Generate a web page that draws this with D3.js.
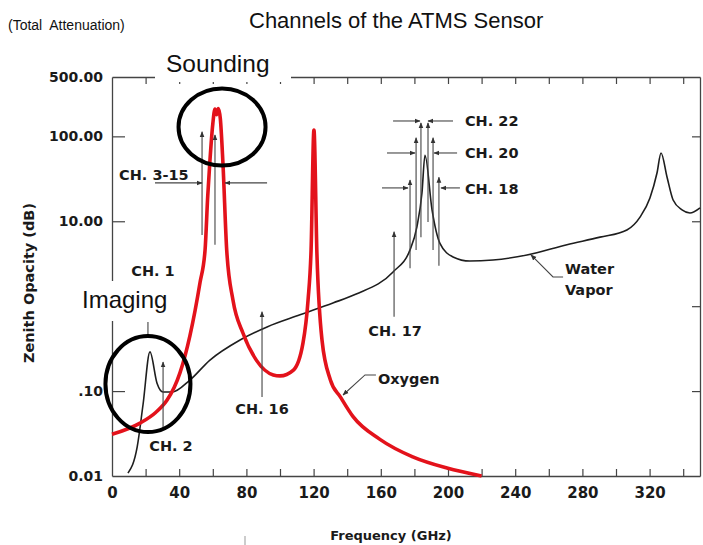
<!DOCTYPE html>
<html>
<head>
<meta charset="utf-8">
<script src="https://cdn.jsdelivr.net/npm/d3@7"></script>
<style>
  body { margin: 0; background: #fff; }
  svg { display: block; }
  .lbl { font-family: "DejaVu Sans", sans-serif; font-weight: bold; fill: #1a1a1a; }
  .big { font-family: "Liberation Sans", Arial, sans-serif; fill: #111; }
</style>
</head>
<body>
<svg id="chart" width="703" height="545"></svg>
<script>
// values: frequency (GHz) / zenith opacity (dB)
const oxygenFreq = [0, 16.7, 26, 32.7, 37, 40.5, 46.4, 52.4, 55.4, 57, 58.3, 60, 61.3, 62.3, 63.3, 64.5, 66, 68.3, 72, 78, 86, 96, 100, 108, 113.7, 116.7, 118.5, 120.2, 122, 125, 130, 136, 143.5, 159.5, 179, 199.4, 220];
const oxygenDb   = [0.031, 0.042, 0.056, 0.078, 0.11, 0.165, 0.45, 1.9, 4.6, 20, 52, 140, 210, 180, 212, 160, 50, 4.5, 1.18, 0.48, 0.23, 0.155, 0.151, 0.177, 0.37, 1.18, 4.6, 119, 4, 0.40, 0.135, 0.085, 0.050, 0.027, 0.0168, 0.0124, 0.01];

const waterFreq = [9.5, 15, 18.5, 22.6, 26.8, 30.4, 35.7, 46.4, 58.3, 76.2, 92.3, 111.9, 131.5, 145, 167.3, 177.4, 181.5, 184.5, 186.3, 190.5, 195.2, 203, 213, 226.8, 247, 270.8, 290.5, 306.5, 314.3, 320.2, 324.4, 326.8, 330.4, 334, 339.3, 344, 350];
const waterDb   = [0.0108, 0.022, 0.07, 0.29, 0.124, 0.0975, 0.0975, 0.135, 0.232, 0.40, 0.57, 0.79, 1.09, 1.38, 2.53, 4.6, 8.6, 21.5, 60, 13.6, 5.5, 3.8, 3.4, 3.5, 4.0, 5.3, 6.5, 7.9, 11.2, 18.8, 37, 63.7, 33, 17.8, 13.6, 12.5, 14.4];

const xTickLabels = [0, 40, 80, 120, 160, 200, 240, 280, 320];
const xMinorTicks = [20, 40, 60, 80, 100, 120, 140, 160, 180, 200, 220, 240, 260, 280, 300, 320, 340];
const yTickValues = [0.01, 0.1, 10, 100, 500];
const yTickText = ["0.01", ".10", "10.00", "100.00", "500.00"];
const yInnerTicks = [0.1, 1, 10, 100];

// channel arrows: [freq, from dB, to dB] (vertical) and [dB, from GHz, to GHz] (horizontal)
const vArrows = [[30.4, 0.035, 0.22], [53.6, 6.9, 113], [61.3, 5.3, 104], [89.3, 0.085, 0.86],
  [167.9, 0.75, 7.5], [177.4, 2.8, 30.6], [194.6, 3.0, 33], [181, 4.6, 96], [191.1, 4.6, 96],
  [183.9, 6.5, 144], [188.1, 9.8, 144]];
const hArrows = [[28.3, 25.6, 53.6], [28.3, 92.3, 67.3], [24.7, 160.7, 176.2], [24.7, 207.1, 195.8],
  [63.7, 163.7, 180.4], [63.7, 205.4, 191.7], [151.7, 167.3, 183.3], [151.7, 203, 188.1]];
const ch1Line = [21.4, 0.434, 0.652];

const chLabels = ["CH. 1", "CH. 2", "CH. 3-15", "CH. 16", "CH. 17", "CH. 18", "CH. 20", "CH. 22", "Oxygen", "Water", "Vapor"];
const chLabelFreq = [24.4, 35.1, 4.2, 89.3, 168.5, 210.1, 210.1, 210.1, 158.3, 269.6, 269.6];
const chLabelDb = [2.6, 0.0226, 35.1, 0.0615, 0.51, 24.0, 63.7, 151.7, 0.139, 2.74, 1.55];
const chLabelAnchor = ["middle", "middle", "start", "middle", "middle", "start", "start", "start", "start", "start", "start"];

const oxygenLeader = [[157.1, 0.155], [150.6, 0.155], [137.5, 0.09]];
const waterLeader = [[268.5, 2.21], [262.5, 2.21], [249.4, 4.01]];

const svg = d3.select('#chart');
const x = d3.scaleLinear().domain([0, 350]).range([112, 700]);
const y = d3.scaleLog().domain([0.01, 500]).range([476, 77]);

// arrow head
svg.append('defs').append('marker')
    .attr('id', 'head')
    .attr('viewBox', '0 0 10 10')
    .attr('refX', 9).attr('refY', 5)
    .attr('markerWidth', 6).attr('markerHeight', 6)
    .attr('markerUnits', 'userSpaceOnUse')
    .attr('orient', 'auto')
    .append('path').attr('d', 'M0,1L10,5L0,9Z').attr('fill', '#333');

// frame with inward ticks
function styleAxis(g) {
    g.selectAll('.domain').attr('stroke', '#444').attr('stroke-width', 1.3);
    g.selectAll('.tick line').attr('stroke', '#444').attr('stroke-width', 1.2);
}
svg.append('g').attr('transform', `translate(0,${y(0.01)})`)
    .call(d3.axisBottom(x).tickValues(xMinorTicks).tickSize(-7).tickSizeOuter(0).tickFormat(''))
    .call(styleAxis);
svg.append('g').attr('transform', `translate(0,${y(500)})`)
    .call(d3.axisTop(x).tickValues(xMinorTicks).tickSize(-7).tickSizeOuter(0).tickFormat(''))
    .call(styleAxis);
svg.append('g').attr('transform', `translate(${x(0)},0)`)
    .call(d3.axisLeft(y).tickValues(yInnerTicks).tickSize(-13).tickSizeOuter(0).tickFormat(''))
    .call(styleAxis);
svg.append('g').attr('transform', `translate(${x(350)},0)`)
    .call(d3.axisRight(y).tickValues(yInnerTicks).tickSize(-8).tickSizeOuter(0).tickFormat(''))
    .call(styleAxis);

// tick labels
const xl = svg.append('g').attr('transform', `translate(0,${y(0.01)})`)
    .call(d3.axisBottom(x).tickValues(xTickLabels).tickSize(0).tickPadding(11));
xl.select('.domain').remove();
xl.selectAll('text').attr('class', 'lbl').attr('font-size', 15);

const yl = svg.append('g').attr('transform', `translate(${x(0)},0)`)
    .call(d3.axisLeft(y).tickValues(yTickValues).tickFormat((d, i) => yTickText[i]).tickSize(0).tickPadding(9));
yl.select('.domain').remove();
yl.selectAll('text').attr('class', 'lbl').attr('font-size', 14);

// curves
const line = d3.line().x(d => x(d[0])).y(d => y(d[1])).curve(d3.curveMonotoneX);
svg.append('path')
    .datum(d3.zip(waterFreq, waterDb))
    .attr('fill', 'none').attr('stroke', '#1e1e1e').attr('stroke-width', 1.6)
    .attr('d', line);
svg.append('path')
    .datum(d3.zip(oxygenFreq, oxygenDb))
    .attr('fill', 'none').attr('stroke', '#e3121b').attr('stroke-width', 3.6)
    .attr('stroke-linejoin', 'round')
    .attr('d', line);

// channel arrows
const ann = svg.append('g').attr('stroke', '#444').attr('stroke-width', 1.1).attr('fill', 'none');
ann.selectAll('.v').data(vArrows).join('line')
    .attr('x1', d => x(d[0])).attr('x2', d => x(d[0]))
    .attr('y1', d => y(d[1])).attr('y2', d => y(d[2]))
    .attr('marker-end', 'url(#head)');
ann.selectAll('.h').data(hArrows).join('line')
    .attr('x1', d => x(d[1])).attr('x2', d => x(d[2]))
    .attr('y1', d => y(d[0])).attr('y2', d => y(d[0]))
    .attr('marker-end', 'url(#head)');
ann.append('line')
    .attr('x1', x(ch1Line[0])).attr('x2', x(ch1Line[0]))
    .attr('y1', y(ch1Line[1])).attr('y2', y(ch1Line[2]));

const leader = d3.line().x(d => x(d[0])).y(d => y(d[1]));
[oxygenLeader, waterLeader].forEach(pts => {
    ann.append('path').attr('d', leader(pts)).attr('marker-end', 'url(#head)');
});

svg.append('g').selectAll('text').data(chLabels).join('text')
    .attr('class', 'lbl')
    .attr('font-size', 14.5)
    .attr('x', (d, i) => x(chLabelFreq[i]))
    .attr('y', (d, i) => y(chLabelDb[i]))
    .attr('dy', '0.36em')
    .attr('text-anchor', (d, i) => chLabelAnchor[i])
    .text(d => d);

// "Sounding" and "Imaging" with white boxes over the frame
svg.append('rect').attr('x', 155).attr('y', 44).attr('width', 136).attr('height', 38).attr('fill', '#fff');
svg.append('rect').attr('x', 76).attr('y', 281).attr('width', 94).attr('height', 40).attr('fill', '#fff');
svg.append('text').attr('class', 'big').attr('x', 166).attr('y', 72).attr('font-size', 24.5).text('Sounding');
svg.append('text').attr('class', 'big').attr('x', 82).attr('y', 308).attr('font-size', 24).text('Imaging');

// circles
svg.append('ellipse')
    .attr('cx', x(65.5)).attr('cy', y(129)).attr('rx', 43.5).attr('ry', 38.5)
    .attr('fill', 'none').attr('stroke', '#000').attr('stroke-width', 4);
svg.append('ellipse')
    .attr('cx', x(21.4)).attr('cy', y(0.121)).attr('rx', 42.5).attr('ry', 48)
    .attr('fill', 'none').attr('stroke', '#000').attr('stroke-width', 4);

// titles
svg.append('text').attr('class', 'big').attr('x', 249).attr('y', 28).attr('font-size', 22)
    .text('Channels of the ATMS Sensor');
svg.append('text').attr('class', 'big').attr('x', 8).attr('y', 30).attr('font-size', 14)
    .style('white-space', 'pre').text('(Total  Attenuation)');
svg.append('text').attr('class', 'lbl').attr('font-size', 13)
    .attr('x', 391).attr('y', 540).attr('text-anchor', 'middle')
    .text('Frequency (GHz)');
svg.append('text').attr('class', 'lbl').attr('font-size', 14.5)
    .attr('transform', 'translate(34,283) rotate(-90)').attr('text-anchor', 'middle')
    .text('Zenith Opacity (dB)');
svg.append('line').attr('x1', 245).attr('x2', 245).attr('y1', 536).attr('y2', 545)
    .attr('stroke', '#999').attr('stroke-width', 1);
</script>
</body>
</html>
